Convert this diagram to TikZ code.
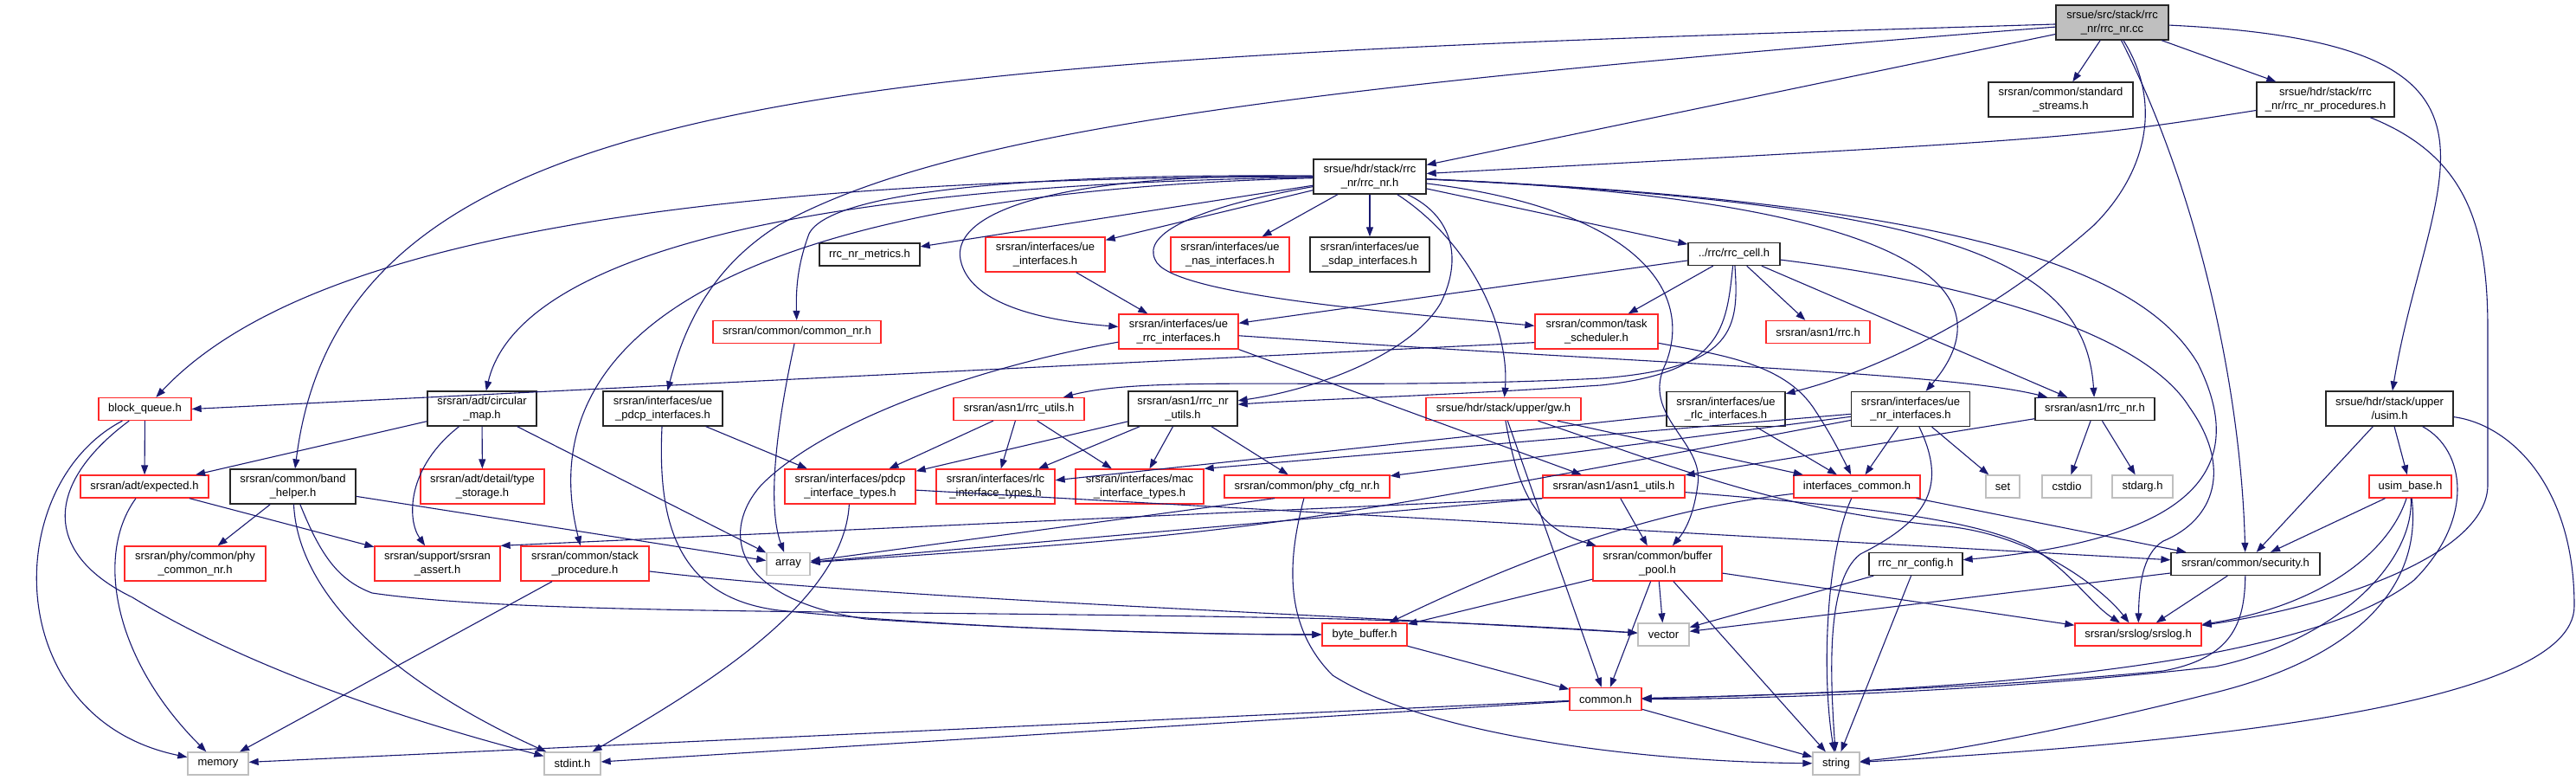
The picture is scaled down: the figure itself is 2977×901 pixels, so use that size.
\documentclass[tikz,border=0pt]{standalone}
\usepackage{fontspec}
\setmainfont{Liberation Sans}
\usepackage{tikz}
\usetikzlibrary{arrows.meta}
\definecolor{midblue}{RGB}{25,25,112}
\definecolor{sysgray}{RGB}{191,191,191}
\definecolor{truncred}{RGB}{255,40,40}

\begin{document}
\begin{tikzpicture}[x=1pt, y=-1pt,
  file/.style={draw=black!85, line width=1.3pt, fill=white, inner sep=0pt, align=center,
    minimum height=26pt, font=\fontsize{13}{15.5}\selectfont},
  twoline/.style={minimum height=40pt},
  redfile/.style={file, draw=truncred},
  sysfile/.style={file, draw=sysgray},
  rootfile/.style={file, fill=sysgray},
  dep/.style={->, >={Triangle[length=11pt, width=8pt]}, draw=midblue, line width=1.1pt}]
\useasboundingbox (0,0) rectangle (2977,901);

% top rows
\node (root) at (2441, 26) [rootfile, twoline, minimum width=130pt] {srsue/src/stack/rrc\\\_nr/rrc\_nr.cc};
\node (std) at (2381.5, 115) [file, twoline, minimum width=167pt] {srsran/common/standard\\\_streams.h};
\node (procs) at (2687.5, 115) [file, twoline, minimum width=159pt] {srsue/hdr/stack/rrc\\\_nr/rrc\_nr\_procedures.h};
\node (rrcnr) at (1583, 204) [file, twoline, minimum width=130pt] {srsue/hdr/stack/rrc\\\_nr/rrc\_nr.h};

\node (metrics) at (1005, 294) [file, minimum width=116pt] {rrc\_nr\_metrics.h};
\node (ueif) at (1208, 294) [redfile, twoline, minimum width=138pt] {srsran/interfaces/ue\\\_interfaces.h};
\node (nasif) at (1421.5, 294) [redfile, twoline, minimum width=137pt] {srsran/interfaces/ue\\\_nas\_interfaces.h};
\node (sdapif) at (1583, 294) [file, twoline, minimum width=138pt] {srsran/interfaces/ue\\\_sdap\_interfaces.h};
\node (rrccell) at (2004, 293.5) [file, minimum width=106pt] {../rrc/rrc\_cell.h};

\node (commonnr) at (921, 383.5) [redfile, minimum width=194pt] {srsran/common/common\_nr.h};
\node (rrcif) at (1362, 383) [redfile, twoline, minimum width=138pt] {srsran/interfaces/ue\\\_rrc\_interfaces.h};
\node (task) at (1845, 383) [redfile, twoline, minimum width=142pt] {srsran/common/task\\\_scheduler.h};
\node (asnrrc) at (2101, 383.5) [redfile, minimum width=120pt] {srsran/asn1/rrc.h};

\node (bq) at (167.5, 472.5) [redfile, minimum width=107pt] {block\_queue.h};
\node (circmap) at (557, 472) [file, twoline, minimum width=126pt] {srsran/adt/circular\\\_map.h};
\node (pdcpif) at (766, 472) [file, twoline, minimum width=138pt] {srsran/interfaces/ue\\\_pdcp\_interfaces.h};
\node (rrcutils) at (1177.5, 472.5) [redfile, minimum width=151pt] {srsran/asn1/rrc\_utils.h};
\node (rrcnrutils) at (1367, 472) [file, twoline, minimum width=126pt] {srsran/asn1/rrc\_nr\\\_utils.h};
\node (gw) at (1737.5, 472.5) [redfile, minimum width=179pt] {srsue/hdr/stack/upper/gw.h};
\node (rlcif) at (1994.5, 472.5) [file, twoline, minimum width=137pt] {srsran/interfaces/ue\\\_rlc\_interfaces.h};
\node (nrif) at (2208, 472.5) [file, twoline, minimum width=137pt] {srsran/interfaces/ue\\\_nr\_interfaces.h};
\node (asnrrcnr) at (2421, 472.5) [file, minimum width=138pt] {srsran/asn1/rrc\_nr.h};
\node (usim) at (2761.5, 472) [file, twoline, minimum width=147pt] {srsue/hdr/stack/upper\\/usim.h};

\node (expected) at (167, 562) [redfile, minimum width=148pt] {srsran/adt/expected.h};
\node (band) at (338.5, 562) [file, twoline, minimum width=145pt] {srsran/common/band\\\_helper.h};
\node (typest) at (557.5, 562) [redfile, twoline, minimum width=143pt] {srsran/adt/detail/type\\\_storage.h};
\node (pdcptypes) at (982.5, 562) [redfile, twoline, minimum width=151pt] {srsran/interfaces/pdcp\\\_interface\_types.h};
\node (rlctypes) at (1150.5, 562) [redfile, twoline, minimum width=137pt] {srsran/interfaces/rlc\\\_interface\_types.h};
\node (mactypes) at (1317, 562) [redfile, twoline, minimum width=148pt] {srsran/interfaces/mac\\\_interface\_types.h};
\node (phycfg) at (1510.5, 562) [redfile, minimum width=191pt] {srsran/common/phy\_cfg\_nr.h};
\node (asnutils) at (1865, 562) [redfile, minimum width=164pt] {srsran/asn1/asn1\_utils.h};
\node (ifcommon) at (2146, 562) [redfile, minimum width=146pt] {interfaces\_common.h};
\node (set) at (2314.5, 562) [sysfile, minimum width=39pt] {set};
\node (cstdio) at (2388.5, 562) [sysfile, minimum width=57pt] {cstdio};
\node (stdarg) at (2476, 562) [sysfile, minimum width=70pt] {stdarg.h};
\node (usimbase) at (2785.5, 562) [redfile, minimum width=95pt] {usim\_base.h};

\node (phycommon) at (225.5, 651) [redfile, twoline, minimum width=163pt] {srsran/phy/common/phy\\\_common\_nr.h};
\node (sassert) at (505.5, 651) [redfile, twoline, minimum width=145pt] {srsran/support/srsran\\\_assert.h};
\node (stackproc) at (676, 651) [redfile, twoline, minimum width=148pt] {srsran/common/stack\\\_procedure.h};
\node (array) at (911, 651.5) [sysfile, minimum width=50pt] {array};
\node (bufpool) at (1915.5, 651) [redfile, twoline, minimum width=149pt] {srsran/common/buffer\\\_pool.h};
\node (config) at (2214, 651.5) [file, minimum width=108pt] {rrc\_nr\_config.h};
\node (security) at (2595, 651.5) [file, minimum width=172pt] {srsran/common/security.h};

\node (bytebuf) at (1577, 733) [redfile, minimum width=98pt] {byte\_buffer.h};
\node (vector) at (1922.5, 733) [sysfile, minimum width=59pt] {vector};
\node (srslog) at (2471, 733) [redfile, minimum width=146pt] {srsran/srslog/srslog.h};
\node (common) at (1855.5, 807.5) [redfile, minimum width=83pt] {common.h};
\node (memory) at (252, 882) [sysfile, minimum width=70pt] {memory};
\node (stdint) at (661.5, 882) [sysfile, minimum width=65pt] {stdint.h};
\node (string) at (2122, 882) [sysfile, minimum width=54pt] {string};

% from rrc_nr.cc
\draw[dep] (root) -- (std);
\draw[dep] (root) -- (procs);
\draw[dep] (root) -- (rrcnr);
\draw[dep] (root) .. controls (1000,70) and (397,90) .. (band);
\draw[dep] (root) .. controls (1500,100) and (1100,150) .. (900,260) .. controls (820,310) and (790,380) .. (pdcpif);
\draw[dep] (root) .. controls (2540,220) and (2590,450) .. (security);
\draw[dep] (root) .. controls (2500,120) and (2480,200) .. (2420,260) .. controls (2330,340) and (2200,420) .. (rlcif);
\draw[dep] (root) .. controls (2950,50) and (2806,200) .. (usim);
\draw[dep] (procs) .. controls (2400,160) .. (rrcnr);
\draw[dep] (procs) .. controls (2850,180) and (2875,260) .. (2875,380) -- (2875,560) .. controls (2875,640) and (2700,700) .. (srslog);

% from rrc_nr.h
\draw[dep] (rrcnr) -- (metrics);
\draw[dep] (rrcnr) -- (ueif);
\draw[dep] (rrcnr) -- (nasif);
\draw[dep] (rrcnr) -- (sdapif);
\draw[dep] (rrcnr) -- (rrccell);
\draw[dep] (rrcnr) .. controls (1200,200) and (960,220) .. (935,270) .. controls (920,310) and (920,340) .. (commonnr);
\draw[dep] (rrcnr) .. controls (1200,200) and (1100,250) .. (1110,300) .. controls (1120,350) and (1200,370) .. (rrcif);
\draw[dep] (rrcnr) .. controls (1380,240) and (1320,270) .. (1335,300) .. controls (1350,340) and (1600,360) .. (task);
\draw[dep] (rrcnr) .. controls (1700,280) and (1745,380) .. (gw);
\draw[dep] (rrcnr) .. controls (1680,250) and (1690,300) .. (1665,350) .. controls (1630,410) and (1520,450) .. (rrcnrutils);
\draw[dep] (rrcnr) .. controls (2250,235) and (2410,300) .. (asnrrcnr);
\draw[dep] (rrcnr) .. controls (2200,230) and (2330,330) .. (nrif);
\draw[dep] (rrcnr) .. controls (2300,235) and (2480,320) .. (2540,420) .. controls (2590,520) and (2570,620) .. (config);
\draw[dep] (rrcnr) .. controls (700,205) and (330,300) .. (bq);
\draw[dep] (rrcnr) .. controls (800,215) and (590,330) .. (circmap);
\draw[dep] (rrcnr) .. controls (760,225) and (620,430) .. (stackproc);
\draw[dep] (rrcnr) .. controls (1880,240) and (1960,330) .. (1925,420) .. controls (1895,480) and (1970,510) .. (1962,560) .. controls (1958,590) and (1950,610) .. (bufpool);

% from rrc_cell.h
\draw[dep] (rrccell) -- (task);
\draw[dep] (rrccell) -- (asnrrc);
\draw[dep] (rrccell) -- (rrcif);
\draw[dep] (rrccell) -- (asnrrcnr);
\draw[dep] (rrccell) .. controls (2010,380) and (2005,425) .. (1850,437) .. controls (1550,452) and (1330,432) .. (rrcutils);
\draw[dep] (rrccell) .. controls (1995,380) and (1990,430) .. (1850,445) .. controls (1650,458) and (1500,462) .. (rrcnrutils);
\draw[dep] (rrccell) .. controls (2300,330) and (2480,390) .. (2530,470) .. controls (2580,540) and (2560,600) .. (2500,625) .. controls (2475,640) and (2472,680) .. (srslog);

% interfaces
\draw[dep] (ueif) -- (rrcif);
\draw[dep] (task.190) -- (bq.east);
\draw[dep] (task) .. controls (1990,410) and (2060,420) .. (2095,470) .. controls (2115,500) and (2125,520) .. (ifcommon);
\draw[dep] (rrcif.south east) -- (asnutils);
\draw[dep] (rrcif) .. controls (1900,420) and (2250,430) .. (asnrrcnr);
\draw[dep] (rrcif) .. controls (1150,420) and (960,480) .. (880,560) .. controls (835,610) and (840,690) .. (1000,715) .. controls (1200,728) and (1400,733) .. (bytebuf);
\draw[dep] (commonnr) .. controls (900,480) and (885,580) .. (array);

% left part
\draw[dep] (bq) -- (expected);
\draw[dep] (bq) .. controls (0,560) and (0,830) .. (memory);
\draw[dep] (bq) .. controls (50,560) and (50,640) .. (153,690) .. controls (300,780) and (500,840) .. (stdint);
\draw[dep] (circmap) -- (expected);
\draw[dep] (circmap) -- (typest);
\draw[dep] (circmap) .. controls (470,540) and (470,600) .. (sassert);
\draw[dep] (circmap) -- (array);
\draw[dep] (pdcpif) -- (pdcptypes);
\draw[dep] (pdcpif) .. controls (760,600) and (780,690) .. (900,705) .. controls (1100,725) and (1350,733) .. (bytebuf);
\draw[dep] (expected) -- (sassert);
\draw[dep] (expected) .. controls (110,640) and (130,760) .. (memory);
\draw[dep] (band) -- (phycommon);
\draw[dep] (band) .. controls (345,700) and (480,800) .. (stdint);
\draw[dep] (band) -- (array);
\draw[dep] (band) .. controls (370,640) and (390,670) .. (430,685) .. controls (600,710) and (1000,705) .. (1450,713) .. controls (1650,716) and (1800,725) .. (vector);
\draw[dep] (stackproc) -- (memory);
\draw[dep] (stackproc) .. controls (1000,690) and (1500,708) .. (vector);

% interface types
\draw[dep] (rrcutils) -- (pdcptypes);
\draw[dep] (rrcutils) -- (rlctypes);
\draw[dep] (rrcutils) -- (mactypes);
\draw[dep] (rrcnrutils) -- (pdcptypes);
\draw[dep] (rrcnrutils) -- (rlctypes);
\draw[dep] (rrcnrutils) -- (mactypes);
\draw[dep] (rrcnrutils) -- (phycfg);
\draw[dep] (pdcptypes) .. controls (975,700) and (800,800) .. (stdint);
\draw[dep] (pdcptypes) -- (security);
\draw[dep] (phycfg.200) -- (array);
\draw[dep] (phycfg) .. controls (1490,640) and (1480,720) .. (1540,780) .. controls (1650,850) and (1900,880) .. (string);

% gw, rlc and nr interfaces
\draw[dep] (gw) -- (common);
\draw[dep] (gw) .. controls (1755,570) and (1775,610) .. (bufpool);
\draw[dep] (gw) -- (ifcommon);
\draw[dep] (gw) .. controls (1950,545) and (2060,590) .. (2250,608) .. controls (2350,618) and (2430,680) .. (srslog);
\draw[dep] (rlcif) -- (rlctypes);
\draw[dep] (rlcif) -- (ifcommon);
\draw[dep] (nrif) -- (set);
\draw[dep] (nrif) -- (ifcommon);
\draw[dep] (nrif) .. controls (2250,560) and (2230,600) .. (2150,640) .. controls (2110,670) and (2115,780) .. (string);
\draw[dep] (nrif) -- (mactypes.north east);
\draw[dep] (nrif) -- (phycfg);
\draw[dep] (nrif) .. controls (1450,615) .. (array);
\draw[dep] (asnrrcnr) -- (cstdio);
\draw[dep] (asnrrcnr) -- (stdarg);
\draw[dep] (asnrrcnr) -- (asnutils);

% usim
\draw[dep] (usim) -- (security);
\draw[dep] (usim) -- (usimbase);
\draw[dep] (usim) .. controls (2900,490) and (2975,560) .. (2975,700) .. controls (2975,820) and (2500,860) .. (string);
\draw[dep] (usim) .. controls (2850,520) and (2860,600) .. (2790,670) .. controls (2650,780) and (2200,800) .. (common);
\draw[dep] (usimbase) -- (security);
\draw[dep] (usimbase) .. controls (2760,640) and (2680,700) .. (srslog);
\draw[dep] (usimbase) .. controls (2790,650) and (2700,740) .. (2560,770) .. controls (2300,800) and (2000,808) .. (common);
\draw[dep] (usimbase) .. controls (2800,680) and (2720,760) .. (2560,800) .. controls (2400,840) and (2250,870) .. (string);

% lower part
\draw[dep] (asnutils) -- (bufpool);
\draw[dep] (asnutils.south west) -- (sassert.north east);
\draw[dep] (asnutils.south west) -- (array);
\draw[dep] (asnutils) .. controls (2150,585) and (2300,600) .. (2360,640) .. controls (2400,670) and (2420,700) .. (srslog);
\draw[dep] (ifcommon) .. controls (1900,590) and (1750,650) .. (bytebuf);
\draw[dep] (ifcommon) .. controls (2110,640) and (2105,780) .. (string);
\draw[dep] (ifcommon) -- (security);
\draw[dep] (bufpool) -- (bytebuf);
\draw[dep] (bufpool) -- (vector);
\draw[dep] (bufpool) -- (common);
\draw[dep] (bufpool) -- (string);
\draw[dep] (bufpool) -- (srslog);
\draw[dep] (config) -- (vector);
\draw[dep] (config) -- (string);
\draw[dep] (security) -- (vector);
\draw[dep] (security) -- (srslog);
\draw[dep] (security) .. controls (2594,720) and (2580,760) .. (2500,775) .. controls (2300,795) and (2000,805) .. (common);
\draw[dep] (bytebuf) -- (common);
\draw[dep] (common) -- (memory);
\draw[dep] (common) -- (stdint);
\draw[dep] (common) -- (string);
\end{tikzpicture}
\end{document}
